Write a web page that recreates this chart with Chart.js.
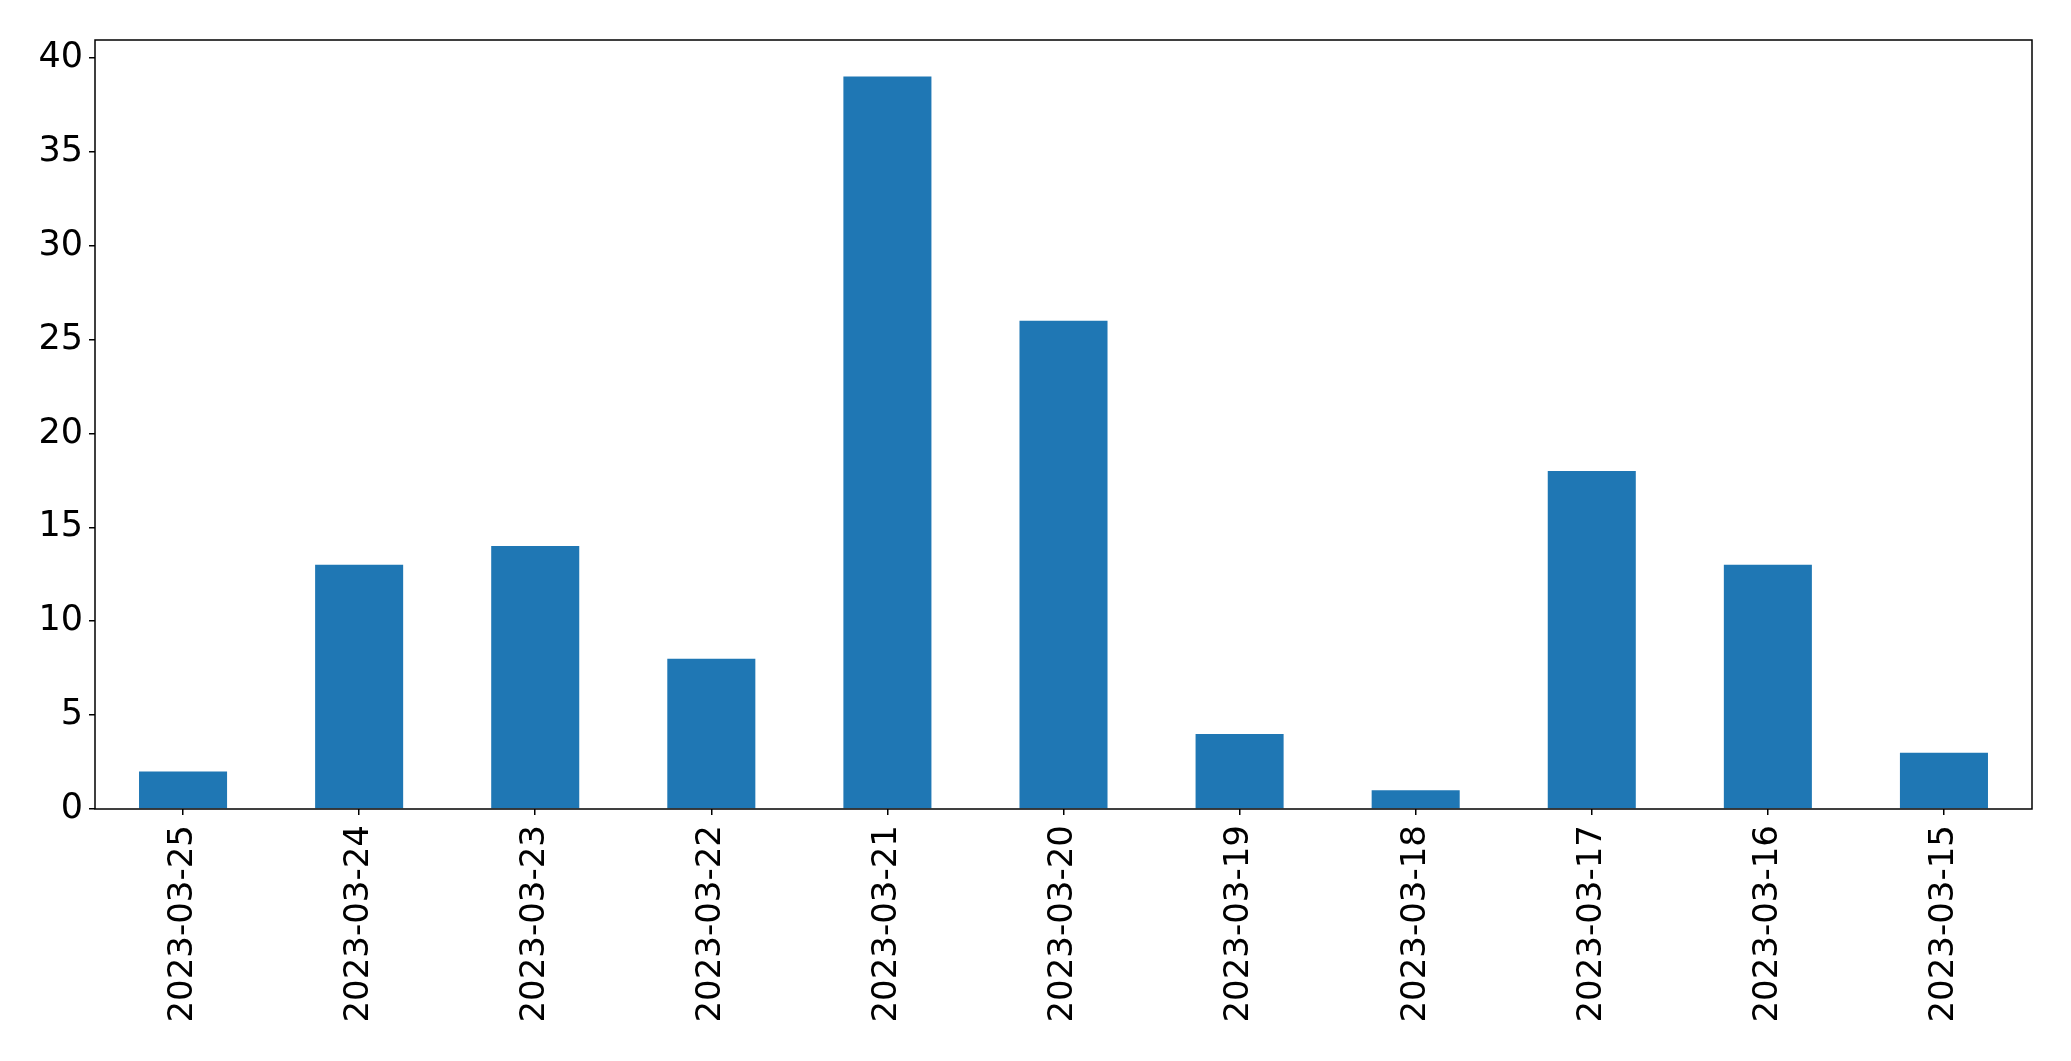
<!DOCTYPE html>
<html>
<head>
<meta charset="utf-8">
<script src="https://cdn.jsdelivr.net/npm/chart.js@4"></script>
<style>
  html, body { margin: 0; padding: 0; background: #fff; }
  #wrap { width: 2071px; height: 1061px; }
</style>
</head>
<body>
<div id="wrap"><canvas id="chart" width="2071" height="1061"></canvas></div>
<script>
'use strict';

const dates = ['2023-03-25','2023-03-24','2023-03-23','2023-03-22','2023-03-21','2023-03-20',
               '2023-03-19','2023-03-18','2023-03-17','2023-03-16','2023-03-15'];
const counts = [2, 13, 14, 8, 39, 26, 4, 1, 18, 13, 3];
const yTicks = [0, 5, 10, 15, 20, 25, 30, 35, 40];

// draw the full box around the plot area
const frame = {
  id: 'frame',
  afterDraw(chart) {
    const a = chart.chartArea, c = chart.ctx;
    c.save();
    c.strokeStyle = '#000';
    c.lineWidth = 1.5;
    c.strokeRect(a.left, a.top, a.right - a.left, a.bottom - a.top);
    c.restore();
  }
};

Chart.defaults.font.family = 'DejaVu Sans';
Chart.defaults.font.size = 34;
Chart.defaults.color = '#000';

new Chart(document.getElementById('chart').getContext('2d'), {
  type: 'bar',
  data: {
    labels: dates,
    datasets: [{
      data: counts,
      backgroundColor: '#1f77b4',
      borderWidth: 0,
      barPercentage: 0.5,
      categoryPercentage: 1.0
    }]
  },
  options: {
    responsive: false,
    animation: false,
    layout: { padding: { left: 0, right: 39, top: 40, bottom: 0 } },
    plugins: { legend: { display: false }, tooltip: { enabled: false } },
    scales: {
      x: {
        grid: { display: true, offset: false, drawOnChartArea: false, drawTicks: true, tickLength: 6, color: '#000', lineWidth: 1.5 },
        border: { display: false },
        ticks: { maxRotation: 90, minRotation: 90, padding: 10, autoSkip: false },
        afterFit(s) { s.height = 1061 - 809; }
      },
      y: {
        min: 0,
        max: 40.95,
        afterBuildTicks(s) { s.ticks = yTicks.map(v => ({ value: v })); },
        grid: { display: true, drawOnChartArea: false, drawTicks: true, tickLength: 6, color: '#000', lineWidth: 1.5 },
        border: { display: false },
        ticks: { padding: 6, font: { size: 35 } },
        afterFit(s) { s.width = 95; }
      }
    }
  },
  plugins: [frame]
});
</script>
</body>
</html>
